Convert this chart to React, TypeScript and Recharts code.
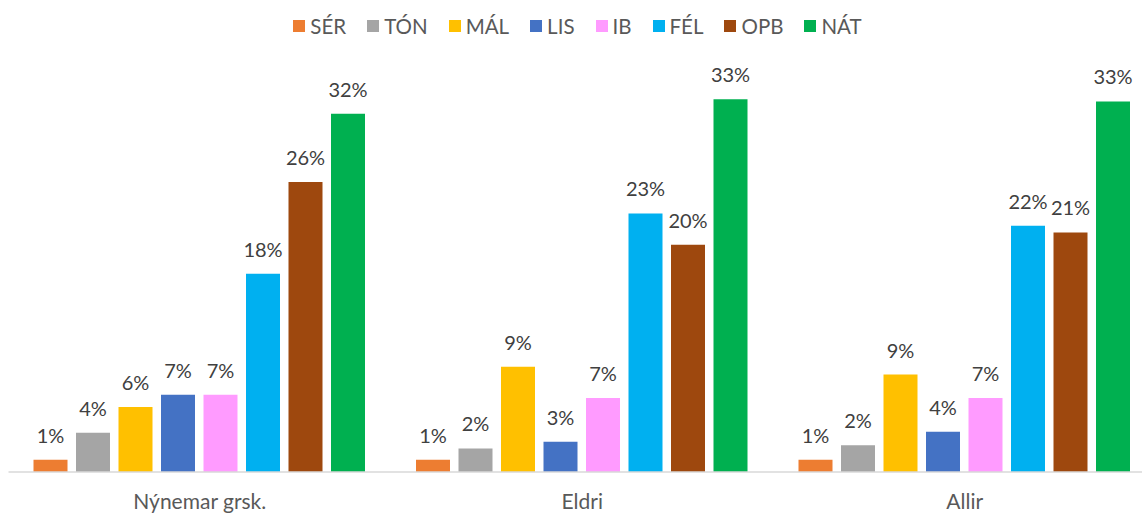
import { Bar, BarChart, LabelList, Legend, XAxis, YAxis } from "recharts";

const categories = ["Nýnemar grsk.", "Eldri", "Allir"];

const serValues = [1.1, 1.1, 1.1];
const tonValues = [3.5, 2.1, 2.4];
const malValues = [5.8, 9.4, 8.7];
const lisValues = [6.9, 2.7, 3.6];
const ibValues = [6.9, 6.6, 6.6];
const felValues = [17.7, 23.1, 22.0];
const opbValues = [25.9, 20.3, 21.4];
const natValues = [32.0, 33.3, 33.1];

const SERIES = [
  { key: "SÉR", values: serValues, color: "#ED7D31" },
  { key: "TÓN", values: tonValues, color: "#A5A5A5" },
  { key: "MÁL", values: malValues, color: "#FFC000" },
  { key: "LIS", values: lisValues, color: "#4472C4" },
  { key: "IB", values: ibValues, color: "#FF9BFF" },
  { key: "FÉL", values: felValues, color: "#00B0F0" },
  { key: "OPB", values: opbValues, color: "#9E480E" },
  { key: "NÁT", values: natValues, color: "#00B050" },
];

const data = categories.map((name, i) => {
  const row: Record<string, string | number> = { name };
  SERIES.forEach((s) => (row[s.key] = s.values[i]));
  return row;
});

const FONT = "Lato, 'Noto Sans', sans-serif";

const renderLegend = () => (
  <div
    style={{
      display: "flex",
      justifyContent: "center",
      alignItems: "center",
      fontFamily: FONT,
      fontSize: 20.5,
      color: "#595959",
    }}
  >
    {SERIES.map((s) => (
      <div
        key={s.key}
        style={{ display: "flex", alignItems: "center", marginRight: 21 }}
      >
        <span
          style={{
            width: 12,
            height: 12,
            background: s.color,
            display: "inline-block",
            marginRight: 5,
          }}
        />
        <span>{s.key}</span>
      </div>
    ))}
  </div>
);

const CategoryTick = (props: any) => {
  const { x, y, payload } = props;
  return (
    <text
      x={x}
      y={y + 29}
      textAnchor="middle"
      fill="#595959"
      fontFamily={FONT}
      fontSize={21}
    >
      {payload.value}
    </text>
  );
};

const ValueLabel = (props: any) => {
  const { x, y, width, value } = props;
  return (
    <text
      x={x + width / 2}
      y={y - 17}
      textAnchor="middle"
      fill="#404040"
      fontFamily={FONT}
      fontSize={20}
    >
      {Math.round(value)}%
    </text>
  );
};

export default function App() {
  return (
    <div
      style={{
        position: "fixed",
        left: 0,
        top: 0,
        width: 1142,
        height: 514,
        overflow: "hidden",
        background: "#fff",
      }}
    >
      <BarChart
        width={1160}
        height={514}
        data={data}
        margin={{ top: 69, right: 4, bottom: 0, left: 8.5 }}
        barCategoryGap={25}
        barGap={8.5}
      >
        <XAxis
          dataKey="name"
          height={42}
          tickLine={false}
          axisLine={{ stroke: "#D9D9D9", strokeWidth: 1.5 }}
          tick={<CategoryTick />}
          interval={0}
        />
        <YAxis hide domain={[0, 36]} />
        <Legend
          verticalAlign="middle"
          align="center"
          content={renderLegend}
          wrapperStyle={{ top: 14, left: 0, width: 1176 }}
        />
        {SERIES.map((s) => (
          <Bar
            key={s.key}
            dataKey={s.key}
            fill={s.color}
            isAnimationActive={false}
          >
            <LabelList dataKey={s.key} content={<ValueLabel />} />
          </Bar>
        ))}
      </BarChart>
    </div>
  );
}
